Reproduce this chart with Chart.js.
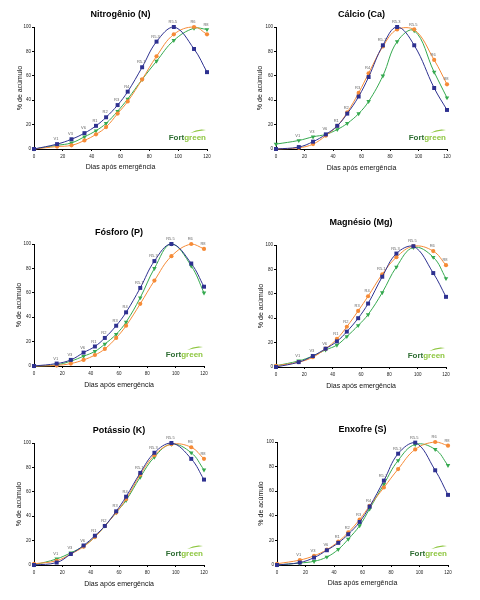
<!DOCTYPE html>
<html>
<head>
<meta charset="utf-8">
<script src="https://cdn.jsdelivr.net/npm/chart.js@4.4.1/dist/chart.umd.min.js"></script>
<style>
  html, body { margin: 0; padding: 0; background: #fff; }
  #wrap { position: relative; width: 480px; height: 600px; overflow: hidden; background: #fff; }
  canvas { position: absolute; }
</style>
</head>
<body>
<div id="wrap"></div>
<script>
// ---------- DATA ----------
const days = [0, 16, 26, 35, 43, 50, 58, 65, 75, 85, 97, 111, 120];
const stages = ['', 'V1', 'V3', 'V6', 'R1', 'R2', 'R3', 'R4', 'R5.1', 'R5.3', 'R5.5', 'R6', 'R8'];
const xTicks = [0, 20, 40, 60, 80, 100, 120];
const yTicks = [0, 20, 40, 60, 80, 100];

const titles = ['Nitrogênio (N)', 'Cálcio (Ca)', 'Fósforo (P)', 'Magnésio (Mg)', 'Potássio (K)', 'Enxofre (S)'];
const xAxisTitle = 'Dias após emergência';
const yAxisTitle = '% de acúmulo';

const nBlue   = [0, 4, 8, 13, 19, 26, 36, 47, 67, 88, 100, 82, 63];
const nOrange = [0, 2, 3, 7, 12, 18, 29, 39, 57, 76, 94, 100, 94];
const nGreen  = [0, 3, 5, 10, 15, 21, 31, 41, 57, 72, 89, 99, 98];

const caBlue   = [0, 1.6, 6, 12, 19, 29, 43, 59, 85, 100, 85, 50, 32];
const caOrange = [0, 1, 4, 11, 19, 30, 46, 62, 84, 98, 98, 73, 53];
const caGreen  = [4, 7, 10, 12, 16, 21, 29, 39, 60, 88, 97, 63, 42];

const pBlue   = [0, 2, 5, 11, 16, 23, 33, 44, 64, 86, 100, 84, 65];
const pOrange = [0, 0.5, 2, 5, 9, 14, 23, 33, 51, 70, 90, 100, 96];
const pGreen  = [0, 1, 4, 8, 12, 18, 26, 36, 56, 80, 100, 82, 60];

const mgBlue   = [0, 4, 9, 15, 21, 29, 40, 52, 74, 93, 99, 77, 57.5];
const mgOrange = [1, 4, 8, 15, 23, 33, 46, 58, 76, 90, 99, 95, 83.5];
const mgGreen  = [1, 5, 9, 14, 18, 25, 34, 43, 61, 82, 98, 90, 72.6];

const kBlue   = [0, 2, 9, 16, 24, 32, 44, 56, 75.5, 92, 100, 87, 70];
const kOrange = [1, 3.5, 9, 15, 23, 32, 43, 54, 74, 90, 99, 96.5, 87];
const kGreen  = [0, 5, 10, 15.5, 23, 32, 43, 53, 72, 88.5, 99, 92, 78];

const sBlue   = [0, 2, 6, 12, 18, 25, 35, 47.5, 68.6, 90.5, 99.5, 77, 57];
const sOrange = [1, 4, 7.5, 12.5, 19, 26.5, 37, 48, 63, 78, 94, 100, 97];
const sGreen  = [0, 1.6, 3, 6.5, 12.7, 21, 32, 45.7, 65.7, 85, 98, 94, 81];

const panelSeries = [
  [nBlue, nOrange, nGreen],
  [caBlue, caOrange, caGreen],
  [pBlue, pOrange, pGreen],
  [mgBlue, mgOrange, mgGreen],
  [kBlue, kOrange, kGreen],
  [sBlue, sOrange, sGreen]
];

// ---------- LAYOUT / STYLE ----------
const BLUE = '#2E3190', ORANGE = '#F68B37', GREEN = '#35A94F';
const FONT = '"Liberation Sans", Arial, sans-serif';

// canvas box (x0,y0,w,h) and plot area (L,R,T,B), title centre y, y-title centre x, x-title centre y
const layouts = [
  {x0: 0,   y0: 0,   w: 240, h: 185, L: 34,  R: 207, T: 27,  B: 149, tY: 15,  yTX: 20,  xTY: 167},
  {x0: 240, y0: 0,   w: 240, h: 185, L: 276, R: 447, T: 27,  B: 149, tY: 15,  yTX: 260, xTY: 168},
  {x0: 0,   y0: 205, w: 240, h: 195, L: 34,  R: 204, T: 244, B: 366, tY: 233, yTX: 19,  xTY: 385},
  {x0: 240, y0: 205, w: 240, h: 195, L: 276, R: 446, T: 245, B: 367, tY: 223, yTX: 261, xTY: 386},
  {x0: 0,   y0: 410, w: 240, h: 190, L: 34,  R: 204, T: 443, B: 565, tY: 431, yTX: 19,  xTY: 584},
  {x0: 240, y0: 410, w: 240, h: 190, L: 277, R: 448, T: 442, B: 565, tY: 430, yTX: 261, xTY: 583}
];

const overlayPlugin = {
  id: 'overlay',
  afterDatasetsDraw(chart) {
    const {ctx, chartArea, scales} = chart;
    const xs = scales.x, ys = scales.y;
    ctx.save();
    // growth stage labels
    ctx.font = '4px ' + FONT;
    ctx.fillStyle = '#666';
    ctx.textAlign = 'center';
    ctx.textBaseline = 'bottom';
    days.forEach((d, i) => {
      if (!stages[i]) return;
      const vmax = Math.max(...chart.data.datasets.map(ds => ds.data[i].y));
      ctx.fillText(stages[i], xs.getPixelForValue(d) - 1, ys.getPixelForValue(vmax) - 3);
    });
    // logo
    ctx.font = 'bold 8px ' + FONT;
    ctx.textAlign = 'left';
    ctx.textBaseline = 'alphabetic';
    const wFort = ctx.measureText('Fort').width;
    const wGreen = ctx.measureText('green').width;
    const right = chartArea.right - 1;
    const base = chartArea.bottom - 9;
    const lx = right - wFort - wGreen;
    ctx.fillStyle = '#2F6E33';
    ctx.fillText('Fort', lx, base);
    ctx.fillStyle = '#8DC63F';
    ctx.fillText('green', lx + wFort, base);
    // leaf swoosh
    const sx = lx + wFort + 6, ex = right;
    ctx.beginPath();
    ctx.moveTo(sx, base - 7);
    ctx.quadraticCurveTo((sx + ex) / 2, base - 12, ex, base - 10);
    ctx.quadraticCurveTo((sx + ex) / 2, base - 9, sx, base - 7);
    ctx.fill();
    ctx.restore();
  }
};

function makePanel(idx) {
  const lay = layouts[idx];
  const series = panelSeries[idx];
  const cv = document.createElement('canvas');
  cv.width = lay.w; cv.height = lay.h;
  cv.style.left = lay.x0 + 'px'; cv.style.top = lay.y0 + 'px';
  cv.style.width = lay.w + 'px'; cv.style.height = lay.h + 'px';
  document.getElementById('wrap').appendChild(cv);

  const colors = [BLUE, ORANGE, GREEN];
  const styles = ['rect', 'circle', 'triangle'];
  const radii = [2.8, 2.1, 2.6];
  const rots = [0, 0, 180];
  const datasets = series.map((vals, k) => ({
    data: vals.map((v, i) => ({x: days[i], y: v})),
    borderColor: colors[k],
    backgroundColor: colors[k],
    borderWidth: 1,
    pointStyle: styles[k],
    pointRadius: radii[k],
    pointRotation: rots[k],
    pointBorderWidth: 0,
    pointBackgroundColor: colors[k],
    tension: 0.4,
    clip: false
  }));

  const titleFontLH = 9 * 1.2;
  const tPadTop = lay.tY - lay.y0 - titleFontLH / 2;
  const tPadBottom = (lay.T - lay.y0) - titleFontLH - tPadTop;
  const axLH = 7 * 1.2;

  new Chart(cv, {
    type: 'line',
    data: {datasets},
    options: {
      responsive: false,
      animation: false,
      events: [],
      layout: {padding: {left: 0, top: 0, bottom: 0, right: lay.x0 + lay.w - lay.R}},
      plugins: {
        legend: {display: false},
        tooltip: {enabled: false},
        title: {
          display: true,
          text: titles[idx],
          fullSize: false,
          color: '#000',
          font: {family: FONT, size: 9, weight: 'bold', lineHeight: 1.2},
          padding: {top: tPadTop, bottom: tPadBottom}
        }
      },
      scales: {
        x: {
          type: 'linear',
          min: 0, max: 120,
          afterFit: s => { s.height = lay.y0 + lay.h - lay.B; },
          afterBuildTicks: s => { s.ticks = xTicks.map(v => ({value: v})); },
          border: {display: true, color: '#000', width: 1},
          grid: {display: true, drawOnChartArea: false, drawTicks: true, tickLength: 2, color: '#000'},
          ticks: {color: '#222', font: {family: FONT, size: 4.5}, padding: 3, maxRotation: 0, autoSkip: false},
          title: {
            display: true, text: xAxisTitle, color: '#111',
            font: {family: FONT, size: 7, lineHeight: 1.2},
            padding: {top: 0, bottom: lay.y0 + lay.h - lay.xTY - axLH / 2}
          }
        },
        y: {
          type: 'linear',
          min: 0, max: 100,
          afterFit: s => { s.width = lay.L - lay.x0; },
          afterBuildTicks: s => { s.ticks = yTicks.map(v => ({value: v})); },
          border: {display: true, color: '#000', width: 1},
          grid: {display: true, drawOnChartArea: false, drawTicks: true, tickLength: 2, color: '#000'},
          ticks: {color: '#222', font: {family: FONT, size: 4.5}, padding: 1, autoSkip: false},
          title: {
            display: true, text: yAxisTitle, color: '#111',
            font: {family: FONT, size: 7, lineHeight: 1.2},
            padding: {top: lay.yTX - lay.x0 - axLH / 2, bottom: 0}
          }
        }
      }
    },
    plugins: [overlayPlugin]
  });
}

for (let i = 0; i < 6; i++) makePanel(i);
</script>
</body>
</html>
